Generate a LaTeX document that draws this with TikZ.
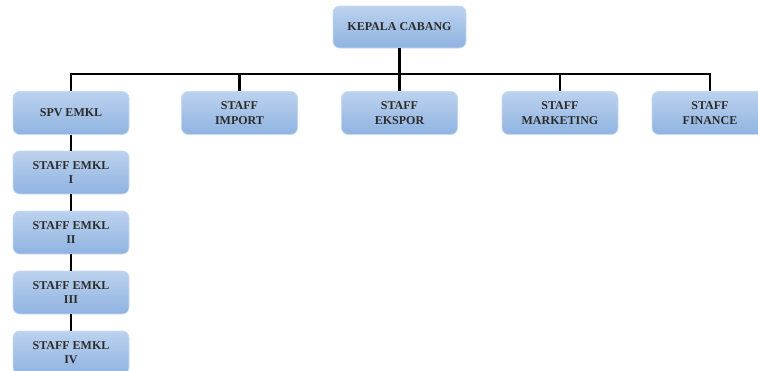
\documentclass[tikz,border=0pt]{standalone}
\usepackage{fontspec}
\setmainfont{Liberation Serif}
\usetikzlibrary{positioning}

\definecolor{boxtop}{HTML}{BCD2EE}
\definecolor{boxbot}{HTML}{8FB3E1}
\definecolor{boxedge}{HTML}{C8DAF1}
\definecolor{boxtext}{HTML}{2B2B2B}

\begin{document}
\begin{tikzpicture}[
    x=0.75pt, y=-0.75pt,
    unit/.style={draw=boxedge, line width=0.6pt, rounded corners=5pt, align=center,
        top color=boxtop, bottom color=boxbot, text=boxtext,
        minimum width=116*0.75pt, minimum height=43*0.75pt, inner sep=1pt,
        font=\fontsize{9}{11}\selectfont\bfseries},
    head/.style={unit, minimum width=133*0.75pt, minimum height=42*0.75pt},
    link/.style={line width=2pt, black}
]
    \useasboundingbox (0,0) rectangle (758,371);

    \node[head] (kepala) at (399.5,27) {KEPALA CABANG};

    \node[unit] (spv) at (71,113) {SPV EMKL};
    \node[unit] (import) at (239.5,113) {STAFF\\IMPORT};
    \node[unit] (ekspor) at (399.5,113) {STAFF\\EKSPOR};
    \node[unit] (marketing) at (560,113) {STAFF\\MARKETING};
    \node[unit] (finance) at (710,113) {STAFF\\FINANCE};

    \node[unit] (emkl1) at (71,172.5) {STAFF EMKL\\I};
    \node[unit] (emkl2) at (71,232.5) {STAFF EMKL\\II};
    \node[unit] (emkl3) at (71,292.5) {STAFF EMKL\\III};
    \node[unit] (emkl4) at (71,352.5) {STAFF EMKL\\IV};

    % bus line
    \coordinate (bus) at (399.5,74);
    \draw[link] (kepala.south) -- (ekspor.north);
    \draw[link] (spv.north) |- (bus) -| (finance.north);
    \foreach \n in {import,marketing}
        \draw[link] (\n.north) -- (\n.north |- bus);

    % emkl column
    \draw[link] (spv) -- (emkl1);
    \draw[link] (emkl1) -- (emkl2);
    \draw[link] (emkl2) -- (emkl3);
    \draw[link] (emkl3) -- (emkl4);
\end{tikzpicture}
\end{document}
